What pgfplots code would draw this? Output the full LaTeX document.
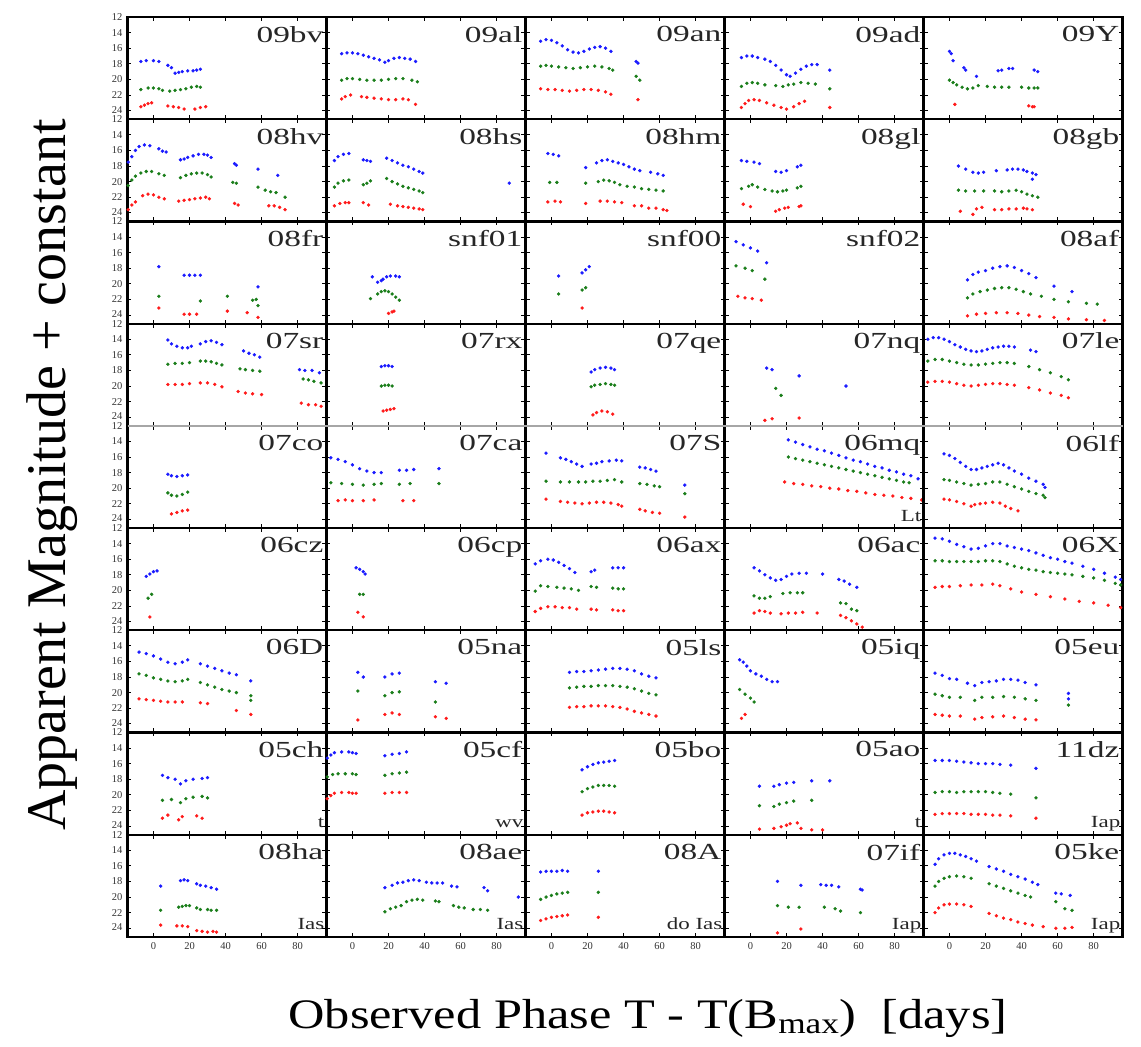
\documentclass[border=0pt]{standalone}
\usepackage{fontspec}
\setmainfont{Liberation Serif}
\usepackage{graphicx}
\usepackage{pgfplots}
\pgfplotsset{compat=1.18}
\usepgfplotslibrary{groupplots}
\definecolor{cb}{RGB}{25,25,255}
\definecolor{cg}{RGB}{25,125,25}
\definecolor{cr}{RGB}{255,25,25}
\pgfplotsset{
  bm/.style={only marks, mark=*, mark size=1.5pt, color=cb, mark options={draw=none}},
  gm/.style={only marks, mark=*, mark size=1.5pt, color=cg, mark options={draw=none}},
  rm/.style={only marks, mark=*, mark size=1.5pt, color=cr, mark options={draw=none}},
}
\newcommand{\PB}[1]{\addplot[bm] coordinates {#1};}
\newcommand{\PG}[1]{\addplot[gm] coordinates {#1};}
\newcommand{\PR}[1]{\addplot[rm] coordinates {#1};}
\newcommand{\NM}[1]{\node[anchor=north east, inner sep=0pt, text=black!85, xshift=-3pt, yshift=-9pt] at (rel axis cs:1,1) {\scalebox{1.45}[1]{\fontsize{23}{23}\selectfont #1}};}
\newcommand{\SL}[1]{\node[anchor=base east, inner sep=0pt, text=black!85, xshift=-2pt, yshift=7pt] at (rel axis cs:1,0) {\scalebox{1.35}[1]{\fontsize{17}{17}\selectfont #1}};}
\begin{document}
\begin{tikzpicture}
\begin{groupplot}[
  group style={group size=5 by 9, horizontal sep=0pt, vertical sep=0pt,
    xticklabels at=edge bottom, yticklabels at=edge left},
  width=199pt, height=102.2pt, scale only axis,
  xmin=-14.4, xmax=96, ymin=12, ymax=25.1, y dir=reverse,
  xtick={0,20,40,60,80}, ytick={12,14,16,18,20,22,24},
  yticklabels={{\raisebox{-3.5pt}{12}},14,16,18,20,22,{\raisebox{2pt}{24}}},
  tick align=inside, major tick length=4pt,
  tick style={line width=1pt, black},
  axis line style={line width=2.2pt},
  /pgf/number format/assume math mode=true,
  tick label style={font=\fontsize{10.5}{10.5}\selectfont, text=black!80},
  yticklabel style={inner sep=0pt, xshift=-5pt},
  xticklabel style={yshift=-2pt},
]
% ---------------- row 1
\nextgroupplot
\PB{(-7,17.7)(-4,17.6)(0,17.6)(3,17.7)(8,18.2)(10,18.5)(12,19.2)(14,19.1)(16,19.0)(19,18.9)(22,18.9)(24,18.8)(26,18.7)}
\PG{(-7,21.3)(-3,21.1)(0,21.1)(3,21.2)(5,21.4)(9,21.5)(12,21.4)(15,21.3)(18,21.2)(21,21.0)(24,20.9)(26,21.0)}
\PR{(-7,23.5)(-5,23.3)(-3,23.1)(-1,23.0)(8,23.4)(11,23.5)(14,23.6)(17,23.8)(23,23.8)(26,23.6)(29,23.5)}
\NM{09bv}
\nextgroupplot
\PB{(-6,16.7)(-3,16.6)(0,16.6)(3,16.7)(6,16.9)(9,17.1)(12,17.3)(15,17.5)(18,17.8)(20,17.6)(23,17.3)(26,17.2)(29,17.3)(32,17.4)(35,17.7)}
\PG{(-6,20.1)(-3,19.9)(0,19.9)(4,20.0)(8,20.1)(12,20.1)(16,20.1)(20,20.0)(24,19.9)(28,19.9)(33,20.1)(36,20.3)}
\PR{(-6,22.5)(-4,22.2)(-1,22.0)(5,22.2)(8,22.3)(12,22.4)(16,22.5)(20,22.6)(24,22.6)(28,22.5)(31,22.6)(35,23.2)}
\NM{09al}
\nextgroupplot
\PB{(-6,15.1)(-3,14.9)(0,15.0)(3,15.3)(6,15.7)(9,16.2)(12,16.5)(15,16.6)(18,16.4)(21,16.1)(24,15.9)(27,15.8)(30,16.0)(33,16.4)(47,17.7)(48,17.9)}
\PG{(-6,18.3)(-3,18.2)(0,18.3)(4,18.4)(8,18.5)(12,18.6)(16,18.5)(20,18.4)(24,18.3)(28,18.4)(32,18.6)(34,18.8)(47,19.6)(49,20.1)}
\PR{(-6,21.2)(-2,21.3)(2,21.3)(6,21.4)(10,21.5)(14,21.4)(18,21.3)(22,21.3)(26,21.4)(30,21.6)(33,21.9)(48,22.6)}
\NM{09an}
\nextgroupplot
\PB{(-5,17.2)(-2,17.0)(1,17.0)(4,17.2)(8,17.4)(11,17.7)(14,18.2)(17,18.8)(20,19.4)(22,19.6)(25,19.2)(28,18.7)(31,18.3)(34,18.1)(37,18.1)(44,18.8)}
\PG{(-5,20.9)(-2,20.5)(1,20.4)(4,20.5)(8,20.7)(14,20.8)(18,20.9)(21,20.7)(24,20.6)(28,20.4)(32,20.5)(36,20.6)(44,21.2)}
\PR{(-5,23.6)(-3,23.1)(-1,22.7)(2,22.6)(5,22.7)(9,23.0)(13,23.3)(17,23.6)(20,23.8)(24,23.5)(27,23.1)(30,22.8)(44,23.6)}
\NM{09ad}
\nextgroupplot
\PB{(0,16.4)(1,16.7)(2,17.6)(8,18.5)(9,18.8)(15,19.6)(27,18.9)(29,18.8)(33,18.6)(35,18.6)(47,18.8)(49,19.0)}
\PG{(0,20.1)(2,20.4)(4,20.7)(7,21.0)(10,21.2)(13,21.1)(16,20.8)(21,20.9)(25,21.0)(29,21.0)(33,21.0)(40,21.0)(44,21.1)(47,21.1)(49,21.1)}
\PR{(3,23.2)(44,23.4)(46,23.5)(47,23.5)}
\NM{09Y}
% ---------------- row 2
\nextgroupplot
\PB{(-14,17.5)(-12,16.8)(-10,16.0)(-8,15.5)(-5,15.3)(-2,15.4)(3,15.8)(5,16.1)(7,16.2)(15,17.2)(17,17.1)(19,16.9)(22,16.7)(25,16.5)(28,16.5)(30,16.6)(32,16.9)(45,17.7)(46,17.9)(58,18.4)(69,19.2)}
\PG{(-14,20.5)(-12,19.8)(-10,19.3)(-7,18.9)(-4,18.7)(-1,18.7)(3,19.0)(6,19.2)(15,19.5)(18,19.2)(21,19.0)(24,18.9)(27,18.9)(30,19.1)(32,19.4)(44,20.1)(46,20.2)(58,20.7)(62,21.1)(65,21.3)(68,21.4)(73,22.0)}
\PR{(-14,23.6)(-12,23.0)(-10,22.6)(-6,21.8)(-3,21.6)(0,21.7)(3,22.0)(6,22.2)(14,22.5)(17,22.4)(20,22.3)(23,22.2)(26,22.1)(29,22.0)(31,22.2)(45,22.8)(47,23.0)(64,23.1)(67,23.1)(70,23.3)(73,23.6)}
\NM{08hv}
\nextgroupplot
\PB{(-10,17.3)(-8,16.8)(-5,16.5)(-2,16.4)(6,17.2)(8,17.3)(10,17.4)(19,17.0)(22,17.3)(25,17.6)(28,17.9)(31,18.1)(34,18.4)(37,18.7)(39,18.9)(87,20.2)}
\PG{(-10,20.7)(-8,20.2)(-5,19.9)(-2,19.8)(6,20.4)(8,20.2)(10,19.9)(19,19.6)(22,20.0)(25,20.3)(28,20.6)(31,20.8)(34,21.0)(37,21.2)(39,21.4)}
\PR{(-10,23.1)(-7,22.8)(-4,22.7)(-2,22.7)(6,22.7)(9,23.0)(21,22.9)(25,23.1)(28,23.2)(31,23.3)(34,23.4)(37,23.5)(39,23.6)}
\NM{08hs}
\nextgroupplot
\PB{(-2,16.4)(1,16.5)(4,16.7)(19,18.2)(25,17.6)(28,17.3)(31,17.2)(34,17.4)(37,17.6)(40,17.8)(43,18.1)(46,18.4)(49,18.6)(55,18.8)(59,19.0)(62,19.2)}
\PG{(-1,20.1)(3,20.1)(19,20.2)(26,20.0)(29,19.8)(32,19.9)(35,20.1)(38,20.4)(42,20.6)(46,20.7)(50,20.9)(54,21.0)(58,21.1)(62,21.2)}
\PR{(-2,22.6)(2,22.5)(5,22.6)(19,22.8)(27,22.5)(31,22.5)(35,22.6)(39,22.7)(46,23.1)(50,23.1)(54,23.4)(58,23.4)(62,23.6)(64,23.7)}
\NM{08hm}
\nextgroupplot
\PB{(-5,17.3)(-2,17.4)(2,17.5)(5,17.7)(14,18.7)(17,18.8)(20,18.6)(26,18.1)(28,17.9)}
\PG{(-5,20.9)(-1,20.6)(1,20.4)(4,20.7)(8,21.0)(12,21.2)(15,21.3)(18,21.2)(20,21.1)(26,20.8)(28,20.6)}
\PR{(-4,22.9)(0,23.2)(14,23.8)(16,23.6)(19,23.4)(21,23.3)(27,23.2)(28,23.1)}
\NM{08gl}
\nextgroupplot
\PB{(5,18.0)(9,18.4)(13,18.8)(16,18.9)(19,18.8)(26,18.6)(32,18.5)(35,18.4)(38,18.4)(41,18.5)(43,18.7)(46,18.9)(48,19.1)(46,19.7)}
\PG{(5,21.1)(9,21.2)(14,21.2)(19,21.2)(25,21.2)(29,21.3)(33,21.2)(37,21.1)(40,21.3)(43,21.6)(46,21.8)(49,22.0)}
\PR{(6,23.8)(13,24.2)(15,23.5)(18,23.3)(25,23.6)(29,23.6)(33,23.5)(37,23.5)(41,23.4)(43,23.5)(46,23.6)}
\NM{08gb}
% ---------------- row 3
\nextgroupplot
\PB{(3,17.8)(17,18.9)(20,18.9)(23,18.9)(26,18.9)(58,20.4)}
\PG{(3,21.6)(26,22.2)(41,21.6)(55,22.1)(57,22.0)(58,22.8)}
\PR{(3,23.1)(17,23.9)(20,23.9)(24,23.9)(41,23.5)(52,23.7)(58,24.3)}
\NM{08fr}
\nextgroupplot
\PB{(11,19.1)(14,19.8)(16,19.6)(17,19.4)(19,19.1)(21,19.0)(24,19.0)(26,19.1)}
\PG{(10,21.9)(14,21.3)(16,21.0)(18,20.9)(20,21.0)(22,21.3)(24,21.7)(26,22.1)}
\PR{(20,23.8)(22,23.6)(23,23.5)}
\NM{snf01}
\nextgroupplot
\PB{(4,19.0)(17,18.6)(19,18.2)(21,17.8)}
\PG{(4,21.3)(17,20.8)(19,20.5)}
\PR{(17,23.1)}
\NM{snf00}
\nextgroupplot
\PB{(-8,14.6)(-4,15.0)(0,15.4)(4,15.8)(9,17.3)}
\PG{(-8,17.7)(-3,18.0)(1,18.3)(8,19.4)}
\PR{(-7,21.6)(-3,21.8)(1,21.9)(6,22.1)}
\NM{snf02}
\nextgroupplot
\PB{(10,19.5)(13,18.8)(16,18.5)(20,18.3)(24,18.0)(28,17.8)(32,17.7)(36,17.9)(40,18.3)(44,18.7)(48,19.2)(58,20.3)(68,21.0)}
\PG{(10,21.8)(13,21.3)(17,21.0)(21,20.8)(25,20.6)(29,20.5)(33,20.5)(37,20.7)(41,21.0)(45,21.3)(51,21.6)(58,22.0)(66,22.3)(76,22.5)(82,22.6)}
\PR{(10,24.1)(15,23.9)(20,23.8)(26,23.7)(32,23.7)(38,23.8)(44,24.0)(50,24.2)(58,24.3)(66,24.5)(76,24.6)(86,24.7)}
\NM{08af}
% ---------------- row 4
\nextgroupplot
\PB{(8,14.1)(10,14.6)(13,14.9)(16,15.1)(19,15.1)(21,14.9)(26,14.6)(29,14.3)(32,14.2)(35,14.4)(38,14.7)(50,15.5)(53,15.8)(56,16.0)(59,16.3)(81,17.9)(84,18.0)(88,18.0)(92,18.3)}
\PG{(8,17.2)(12,17.1)(16,17.1)(20,17.0)(26,16.8)(29,16.8)(32,16.9)(35,17.1)(38,17.3)(48,17.8)(51,17.9)(55,18.0)(59,18.1)(83,19.1)(86,19.2)(89,19.4)(93,19.6)}
\PR{(8,19.8)(12,19.8)(16,19.8)(20,19.7)(26,19.6)(30,19.6)(34,19.8)(38,20.1)(47,20.7)(51,20.9)(55,21.0)(60,21.1)(82,22.2)(86,22.4)(90,22.4)(93,22.6)}
\NM{07sr}
\nextgroupplot
\PB{(16,17.5)(18,17.4)(20,17.4)(22,17.5)}
\PG{(16,20.0)(18,19.9)(20,19.9)(22,20.0)}
\PR{(17,23.2)(19,23.1)(21,23.0)(23,22.9)}
\NM{07rx}
\nextgroupplot
\PB{(22,18.2)(24,17.9)(27,17.7)(30,17.6)(33,17.7)(35,17.9)}
\PG{(22,20.1)(24,19.9)(27,19.8)(30,19.7)(33,19.8)(35,19.9)}
\PR{(23,23.7)(25,23.4)(28,23.2)(31,23.3)(34,23.6)}
\NM{07qe}
\nextgroupplot
\PB{(9,17.7)(12,17.9)(27,18.7)(53,20.0)}
\PG{(14,20.3)(17,21.2)}
\PR{(8,24.4)(12,24.2)(27,24.1)}
\NM{07nq}
\nextgroupplot
\PB{(-12,14.0)(-9,13.8)(-6,13.8)(-3,14.0)(0,14.3)(3,14.7)(6,15.0)(9,15.3)(12,15.5)(15,15.6)(18,15.5)(21,15.3)(24,15.1)(27,15.0)(30,14.9)(33,14.9)(36,15.0)(45,15.4)(48,15.6)}
\PG{(-12,16.8)(-8,16.6)(-4,16.6)(0,16.8)(4,17.0)(8,17.2)(12,17.3)(16,17.3)(20,17.2)(24,17.1)(28,17.0)(32,17.0)(36,17.1)(44,17.5)(50,17.9)(56,18.3)(62,18.8)(66,19.2)}
\PR{(-12,19.5)(-8,19.4)(-4,19.4)(0,19.5)(4,19.7)(8,19.9)(12,20.0)(16,19.9)(20,19.8)(24,19.7)(28,19.7)(32,19.8)(36,19.9)(44,20.2)(50,20.5)(56,20.9)(62,21.2)(66,21.5)}
\NM{07le}
% ---------------- row 5
\nextgroupplot
\PB{(8,18.2)(10,18.4)(13,18.5)(16,18.4)(19,18.3)}
\PG{(8,20.6)(10,20.9)(13,21.0)(16,20.8)(19,20.5)}
\PR{(10,23.3)(13,23.1)(16,22.9)(19,22.8)}
\NM{07co}
\nextgroupplot
\PB{(-12,16.1)(-8,16.3)(-4,16.6)(0,17.0)(4,17.5)(8,17.8)(12,18.0)(16,18.0)(26,17.7)(30,17.7)(34,17.6)(48,17.5)}
\PG{(-12,19.3)(-6,19.4)(0,19.5)(6,19.6)(12,19.5)(16,19.4)(26,19.5)(32,19.4)(48,19.4)}
\PR{(-8,21.6)(-4,21.5)(0,21.6)(6,21.6)(12,21.5)(28,21.6)(34,21.6)}
\NM{07ca}
\nextgroupplot
\PB{(-3,15.5)(5,16.1)(8,16.3)(11,16.6)(14,16.9)(17,17.2)(22,16.9)(25,16.8)(28,16.6)(32,16.5)(36,16.4)(39,16.5)(49,17.3)(52,17.4)(55,17.6)(58,17.8)(74,19.6)}
\PG{(-3,19.1)(5,19.2)(10,19.2)(15,19.2)(19,19.2)(23,19.1)(27,19.1)(31,19.0)(35,18.9)(39,19.2)(49,19.4)(53,19.5)(57,19.7)(60,19.8)(74,20.7)}
\PR{(-3,21.4)(5,21.7)(9,21.8)(13,21.9)(17,22.0)(21,21.9)(25,21.8)(29,21.8)(33,21.9)(37,22.1)(39,22.3)(49,22.7)(52,22.9)(56,23.1)(60,23.2)(74,23.7)}
\NM{07S}
\nextgroupplot
\PB{(21,13.8)(25,14.1)(29,14.4)(33,14.7)(37,15.0)(41,15.2)(45,15.5)(49,15.8)(53,16.1)(57,16.4)(61,16.6)(65,16.9)(69,17.2)(73,17.4)(77,17.7)(81,17.9)(85,18.2)(89,18.4)(93,18.8)}
\PG{(21,16.0)(25,16.2)(29,16.4)(33,16.6)(37,16.8)(41,17.0)(45,17.2)(49,17.4)(53,17.6)(57,17.8)(61,18.0)(65,18.2)(69,18.4)(73,18.6)(77,18.8)(81,19.0)(85,19.2)(88,19.3)}
\PR{(19,19.2)(24,19.4)(29,19.5)(34,19.7)(39,19.8)(44,20.0)(49,20.1)(54,20.3)(59,20.4)(64,20.6)(69,20.8)(74,20.9)(79,21.0)(84,21.2)(89,21.3)(95,21.5)}
\NM{06mq}\SL{Lt}
\nextgroupplot
\PB{(-3,15.6)(0,15.8)(3,16.2)(6,16.7)(9,17.2)(12,17.6)(15,17.6)(18,17.4)(21,17.2)(24,17.0)(27,16.8)(30,17.0)(33,17.4)(36,17.8)(40,18.2)(44,18.7)(48,19.1)(52,19.5)(53,19.9)}
\PG{(-3,18.9)(0,19.0)(4,19.2)(8,19.4)(12,19.6)(16,19.5)(20,19.4)(24,19.2)(28,19.2)(32,19.5)(36,19.8)(40,20.1)(44,20.4)(48,20.7)(52,20.9)(53,21.2)}
\PR{(-3,21.4)(0,21.5)(4,21.7)(8,22.0)(12,22.3)(14,22.1)(17,22.0)(20,21.9)(24,21.8)(28,21.9)(31,22.3)(34,22.6)(38,22.9)}
\NM{06lf}
% ---------------- row 6
\nextgroupplot
\PB{(-4,18.2)(-2,17.9)(0,17.6)(2,17.5)}
\PG{(-3,21.0)(-1,20.5)}
\PR{(-2,23.4)}
\NM{06cz}
\nextgroupplot
\PB{(2,17.1)(4,17.3)(6,17.6)(7,17.9)}
\PG{(4,20.5)(6,20.5)}
\PR{(3,22.8)(6,23.4)}
\NM{06cp}
\nextgroupplot
\PB{(-9,16.6)(-6,16.2)(-2,16.0)(1,16.1)(4,16.4)(7,16.8)(10,17.2)(13,17.7)(22,17.6)(24,17.4)(34,17.1)(37,17.1)(40,17.1)}
\PG{(-9,20.1)(-6,19.4)(-2,19.5)(3,19.6)(7,19.7)(11,19.8)(15,20.0)(22,19.5)(25,19.6)(34,19.7)(37,19.8)(40,19.8)}
\PR{(-9,22.7)(-6,22.3)(-2,22.1)(2,22.1)(6,22.2)(10,22.2)(14,22.4)(22,22.4)(25,22.5)(34,22.5)(37,22.6)(40,22.6)}
\NM{06ax}
\nextgroupplot
\PB{(2,17.1)(5,17.5)(8,18.0)(11,18.4)(14,18.7)(17,18.6)(20,18.2)(23,17.9)(27,17.8)(31,17.8)(40,17.9)(49,18.6)(52,18.8)(55,19.2)(59,19.6)}
\PG{(2,20.7)(5,21.0)(8,21.0)(11,20.8)(18,20.4)(22,20.3)(26,20.3)(29,20.3)(50,21.6)(53,21.7)(56,22.4)(59,22.6)}
\PR{(2,22.9)(5,22.6)(8,22.7)(11,22.9)(17,23.0)(21,22.9)(25,22.9)(29,22.8)(37,22.9)(50,23.2)(53,23.5)(56,23.9)(59,24.3)(62,24.7)}
\NM{06ac}
\nextgroupplot
\PB{(-8,13.3)(-4,13.4)(0,13.7)(4,14.1)(8,14.4)(12,14.7)(16,14.6)(20,14.3)(24,14.0)(28,14.0)(32,14.3)(36,14.5)(40,14.7)(44,14.9)(48,15.2)(52,15.5)(56,15.8)(60,16.0)(64,16.3)(68,16.5)(74,16.9)(80,17.3)(86,17.8)(92,18.3)(95,18.6)}
\PG{(-8,16.2)(-4,16.2)(0,16.3)(4,16.3)(8,16.3)(12,16.3)(16,16.3)(20,16.2)(24,16.2)(28,16.3)(32,16.6)(36,16.9)(40,17.1)(44,17.3)(48,17.4)(52,17.6)(56,17.7)(60,17.8)(64,17.9)(68,18.0)(74,18.2)(80,18.4)(86,18.7)(92,19.1)(95,19.3)}
\PR{(-8,19.6)(-4,19.5)(0,19.5)(6,19.4)(12,19.3)(18,19.3)(24,19.2)(28,19.4)(34,19.8)(40,20.2)(48,20.5)(56,20.8)(64,21.1)(72,21.4)(80,21.6)(88,21.9)(95,22.2)}
\NM{06X}
% ---------------- row 7
\nextgroupplot
\PB{(-8,14.8)(-4,15.0)(0,15.3)(4,15.7)(8,16.1)(12,16.3)(16,16.1)(19,15.8)(26,16.3)(30,16.6)(34,16.9)(38,17.2)(42,17.5)(46,17.7)(54,18.5)}
\PG{(-8,17.6)(-4,17.8)(0,18.1)(4,18.3)(8,18.5)(12,18.6)(16,18.5)(19,18.3)(26,18.7)(30,19.0)(34,19.3)(38,19.6)(42,19.8)(46,20.0)(54,20.4)(54,21.0)}
\PR{(-8,20.8)(-4,20.9)(0,21.0)(4,21.1)(8,21.2)(12,21.2)(16,21.2)(26,21.3)(30,21.4)(46,22.3)(54,22.8)}
\NM{06D}
\nextgroupplot
\PB{(3,17.4)(6,18.0)(18,18.0)(22,17.6)(26,17.5)(46,18.6)(52,18.8)}
\PG{(3,19.8)(18,20.4)(22,20.0)(26,19.9)(46,21.2)}
\PR{(3,23.5)(18,22.8)(22,22.6)(26,22.8)(46,23.1)(52,23.3)}
\NM{05na}
\nextgroupplot
\PB{(10,17.4)(14,17.3)(18,17.3)(22,17.2)(26,17.1)(30,17.0)(34,16.9)(38,16.9)(42,17.0)(46,17.2)(50,17.6)(54,17.9)(58,18.1)}
\PG{(10,19.4)(14,19.3)(18,19.2)(22,19.2)(26,19.1)(30,19.1)(34,19.1)(38,19.2)(42,19.3)(46,19.5)(50,19.8)(54,20.1)(58,20.3)}
\PR{(10,21.9)(14,21.8)(18,21.8)(22,21.7)(26,21.7)(30,21.7)(34,21.8)(38,21.9)(42,22.1)(46,22.4)(50,22.6)(54,22.8)(58,23.0)}
\NM{05ls}
\nextgroupplot
\PB{(-6,15.8)(-4,16.1)(-2,16.6)(0,17.2)(3,17.6)(6,17.9)(9,18.3)(12,18.6)(15,18.6)}
\PG{(-6,19.6)(-3,20.2)(0,20.7)(2,21.2)}
\PR{(-5,23.3)(-3,22.8)}
\NM{05iq}
\nextgroupplot
\PB{(-8,17.5)(-4,17.8)(0,18.2)(4,18.3)(10,18.8)(14,19.1)(18,18.7)(22,18.6)(26,18.5)(30,18.3)(34,18.3)(38,18.4)(42,18.7)(48,19.0)(66,20.1)(66,20.8)}
\PG{(-8,20.2)(-4,20.4)(0,20.6)(6,20.6)(14,21.0)(18,20.6)(24,20.6)(30,20.5)(36,20.6)(42,20.8)(48,21.0)(66,21.6)}
\PR{(-8,22.8)(-4,22.9)(0,23.0)(6,23.0)(14,23.4)(18,23.2)(24,23.1)(30,23.0)(36,23.2)(42,23.4)(48,23.5)}
\NM{05eu}
% ---------------- row 8
\nextgroupplot
\PB{(5,17.5)(8,17.8)(12,18.0)(15,18.6)(18,18.2)(22,18.0)(27,17.9)(30,17.8)}
\PG{(5,20.7)(10,20.6)(15,21.0)(18,20.5)(22,20.3)(27,20.2)(30,20.4)}
\PR{(5,23.0)(8,22.6)(14,23.2)(16,22.8)(24,22.7)(27,23.0)}
\NM{05ch}\SL{t}
\nextgroupplot
\PB{(-14,15.3)(-12,14.9)(-10,14.6)(-6,14.5)(-2,14.5)(0,14.6)(2,14.7)(18,15.0)(22,14.8)(26,14.7)(30,14.5)}
\PG{(-14,17.7)(-11,17.4)(-8,17.3)(-4,17.3)(0,17.3)(2,17.4)(18,17.5)(22,17.3)(26,17.2)(30,17.1)}
\PR{(-14,20.5)(-12,20.1)(-10,19.8)(-6,19.7)(-2,19.7)(0,19.8)(2,19.8)(18,19.8)(22,19.7)(26,19.7)(30,19.7)}
\NM{05cf}\SL{wv}
\nextgroupplot
\PB{(17,16.8)(20,16.4)(23,16.1)(26,15.9)(29,15.8)(32,15.7)(35,15.6)}
\PG{(17,19.6)(20,19.2)(23,19.0)(26,18.8)(29,18.8)(32,18.8)(35,18.9)}
\PR{(17,22.6)(20,22.3)(23,22.2)(26,22.1)(29,22.1)(32,22.2)(35,22.3)}
\NM{05bo}
\nextgroupplot
\PB{(5,18.9)(13,18.9)(16,18.7)(20,18.5)(24,18.4)(34,18.2)(44,18.2)}
\PG{(5,21.4)(13,21.5)(16,21.2)(20,21.0)(24,20.8)(34,20.7)}
\PR{(5,24.4)(13,24.3)(17,24.1)(20,23.9)(22,23.7)(26,23.6)(28,24.3)(34,24.5)(40,24.5)}
\NM{05ao}\SL{t}
\nextgroupplot
\PB{(-8,15.6)(-4,15.6)(0,15.6)(4,15.7)(8,15.8)(12,15.9)(16,16.0)(20,16.0)(24,16.0)(28,16.1)(34,16.2)(48,16.6)}
\PG{(-8,19.7)(-4,19.6)(0,19.6)(4,19.7)(8,19.6)(12,19.6)(16,19.6)(20,19.6)(24,19.7)(28,19.8)(34,19.9)(48,20.4)}
\PR{(-8,22.5)(-4,22.4)(0,22.4)(4,22.4)(8,22.4)(12,22.5)(16,22.5)(20,22.5)(24,22.6)(28,22.6)(34,22.7)(48,23.0)}
\NM{11dz}\SL{Iap}
% ---------------- row 9
\nextgroupplot
\PB{(4,18.6)(15,17.9)(17,17.8)(19,17.9)(24,18.3)(26,18.5)(29,18.6)(32,18.8)(35,19.0)}
\PG{(4,21.7)(14,21.3)(16,21.2)(18,21.1)(20,21.1)(24,21.4)(26,21.6)(30,21.6)(32,21.7)(35,21.7)}
\PR{(4,23.6)(13,23.7)(16,23.7)(19,23.8)(24,24.3)(27,24.4)(30,24.5)(33,24.4)(35,24.5)}
\NM{08ha}\SL{Ias}
\nextgroupplot
\PB{(18,18.8)(22,18.5)(25,18.2)(28,18.1)(31,17.9)(34,17.8)(37,17.9)(41,18.1)(44,18.2)(47,18.2)(50,18.2)(55,18.6)(58,18.7)(73,18.8)(75,19.2)(92,20.0)}
\PG{(18,21.9)(21,21.5)(24,21.3)(27,21.1)(30,20.6)(33,20.4)(36,20.3)(39,20.4)(46,20.5)(48,20.6)(56,21.1)(59,21.3)(62,21.4)(67,21.6)(71,21.6)(75,21.7)}
\NM{08ae}\SL{Ias}
\nextgroupplot
\PB{(-6,16.8)(-3,16.7)(0,16.7)(3,16.7)(6,16.6)(9,16.7)(26,16.7)}
\PG{(-6,20.3)(-3,20.0)(0,19.8)(3,19.6)(6,19.5)(9,19.4)(26,19.4)}
\PR{(-6,23.0)(-3,22.8)(0,22.6)(3,22.5)(6,22.4)(9,22.3)(26,22.6)}
\NM{08A}\SL{do Ias}
\nextgroupplot
\PB{(15,18.0)(28,18.5)(39,18.4)(42,18.5)(45,18.5)(49,18.7)(61,19.0)(62,19.1)}
\PG{(15,21.1)(21,21.3)(27,21.3)(41,21.3)(47,21.5)(50,21.8)(61,22.0)}
\PR{(15,24.6)(28,24.1)}
\NM{07if}\SL{Iap}
\nextgroupplot
\PB{(-8,15.8)(-6,15.1)(-3,14.6)(0,14.4)(3,14.4)(6,14.6)(9,14.8)(12,15.1)(15,15.4)(22,16.1)(26,16.4)(30,16.7)(34,17.1)(38,17.4)(42,17.7)(46,18.1)(49,18.4)(59,19.5)(62,19.6)(67,19.8)}
\PG{(-8,18.6)(-6,18.0)(-3,17.6)(0,17.4)(4,17.3)(8,17.4)(12,17.6)(22,18.3)(26,18.6)(30,18.9)(34,19.2)(38,19.5)(42,19.8)(45,20.0)(59,20.6)(64,21.5)(68,21.7)}
\PR{(-8,22.0)(-6,21.4)(-3,21.0)(0,20.9)(4,20.9)(8,21.0)(12,21.2)(22,22.1)(26,22.4)(30,22.7)(34,22.9)(38,23.2)(42,23.4)(46,23.6)(52,23.8)(59,24.0)(64,24.0)(68,23.9)}
\NM{05ke}\SL{Iap}
\end{groupplot}
\draw[black!35, line width=2.6pt] (group c1r5.north west) -- (group c5r5.north east);
\node[rotate=90, anchor=center, inner sep=0pt] at ([shift={(-75.5pt,-458pt)}]group c1r1.north west) {\fontsize{56}{56}\selectfont Apparent Magnitude + constant};
\node[anchor=base, inner sep=0pt] at ([shift={(520.5pt,-1011pt)}]group c1r1.north west) {\scalebox{1.2}[1]{\fontsize{42}{42}\selectfont Observed Phase T - T(B\textsubscript{max})\ \ [days]}};
\pgfresetboundingbox
\path ([shift={(-127.5pt,17pt)}]group c1r1.north west) rectangle ++(1141pt,-1047pt);
\end{tikzpicture}
\end{document}
